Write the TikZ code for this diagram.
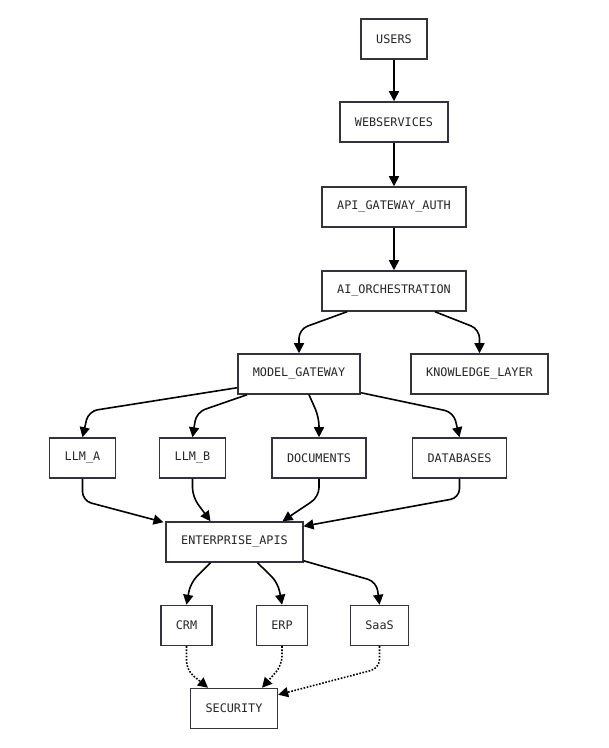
\documentclass[tikz,border=0pt]{standalone}
\usepackage{fontspec}
\setmonofont{DejaVu Sans Mono}
\usepackage{xcolor}
\usepackage{tikz}
\usetikzlibrary{arrows.meta}
\definecolor{boxline}{HTML}{333340}

\begin{document}
\begin{tikzpicture}[x=1pt,y=1pt,
  box/.style={draw=boxline,line width=1.5pt,fill=white,minimum height=40pt,
    inner xsep=15pt,font=\ttfamily\fontsize{11.8}{13}\selectfont,text=black!85},
  flow/.style={black,line width=1.6pt,rounded corners=9pt,
    -{Triangle[length=10pt,width=10pt]}},
  dotflow/.style={flow,dash pattern=on 1.6pt off 1.6pt}]
\useasboundingbox (0,0) rectangle (609,748);
%% nodes
\node[box] (users) at (394,709) {USERS};
\node[box] (web)   at (394,626) {WEBSERVICES};
\node[box] (api)   at (394,541) {API\_GATEWAY\_AUTH};
\node[box] (ai)    at (394,457) {AI\_ORCHESTRATION};
\node[box] (mg)    at (299,374) {MODEL\_GATEWAY};
\node[box] (kl)    at (479.5,374) {KNOWLEDGE\_LAYER};
\node[box] (llma)  at (82.5,290) {LLM\_A};
\node[box] (llmb)  at (192.5,290) {LLM\_B};
\node[box] (docs)  at (319,290) {DOCUMENTS};
\node[box] (dbs)   at (459.5,290) {DATABASES};
\node[box] (eapi)  at (234.5,206) {ENTERPRISE\_APIS};
\node[box] (crm)   at (186.5,122.5) {CRM};
\node[box] (erp)   at (282,122.5) {ERP};
\node[box] (saas)  at (379.5,122.5) {SaaS};
\node[box] (sec)   at (234,39.5) {SECURITY};
%% edges
\draw[flow] (users) -- (web);
\draw[flow] (web) -- (api);
\draw[flow] (api) -- (ai);
\draw[flow] ([xshift=-47pt]ai.south) -- ([yshift=24pt]mg.north) -- (mg.north);
\draw[flow] ([xshift=41pt]ai.south) -- ([yshift=24pt]kl.north) -- (kl.north);
\draw[flow] ([yshift=7pt]mg.south west) -- ([xshift=6pt,yshift=26pt]llma.north) -- (llma.north);
\draw[flow] ([xshift=-52pt]mg.south) -- ([xshift=4pt,yshift=25pt]llmb.north) -- (llmb.north);
\draw[flow] ([xshift=10pt]mg.south) -- ([yshift=20pt]docs.north) -- (docs.north);
\draw[flow] ([yshift=2pt]mg.south east) -- ([xshift=-6pt,yshift=25pt]dbs.north) -- (dbs.north);
\draw[flow] (llma.south) -- ([yshift=-22pt]llma.south) -- ([xshift=-2pt,yshift=-1pt]eapi.north west);
\draw[flow] (llmb.south) -- ([yshift=-18pt]llmb.south) -- ([xshift=-24pt]eapi.north);
\draw[flow] (docs.south) -- ([yshift=-18pt]docs.south) -- ([xshift=48pt]eapi.north);
\draw[flow] (dbs.south) -- ([yshift=-19pt]dbs.south) -- ([yshift=-5pt]eapi.north east);
\draw[flow] ([xshift=-24pt]eapi.south) -- ([xshift=4pt,yshift=22pt]crm.north) -- (crm.north);
\draw[flow] ([xshift=23pt]eapi.south) -- ([xshift=-4pt,yshift=22pt]erp.north) -- (erp.north);
\draw[flow] ([yshift=2pt]eapi.south east) -- ([xshift=-3pt,yshift=23pt]saas.north) -- (saas.north);
\draw[dotflow] (crm.south) -- ([yshift=-24pt]crm.south) -- ([xshift=-26pt]sec.north);
\draw[dotflow] (erp.south) -- ([yshift=-19pt]erp.south) -- ([xshift=28pt]sec.north);
\draw[dotflow] (saas.south) -- ([yshift=-22pt]saas.south) -- ([yshift=-7pt]sec.north east);
\end{tikzpicture}
\end{document}
